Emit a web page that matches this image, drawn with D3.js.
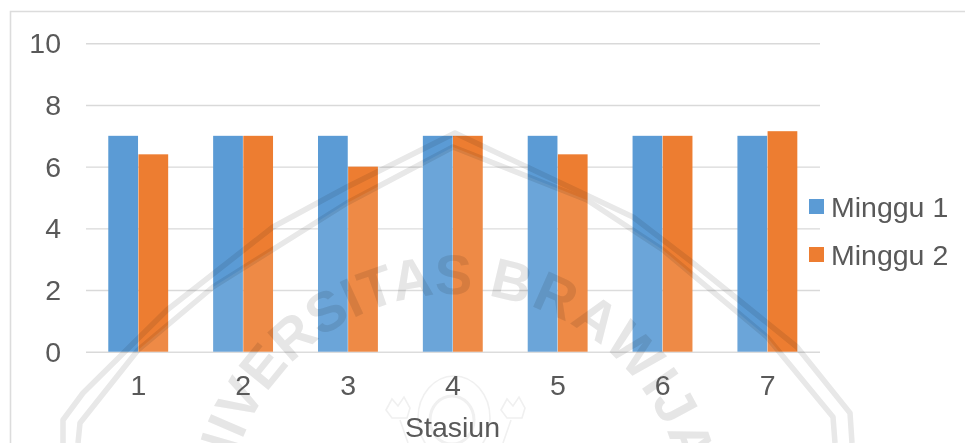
<!DOCTYPE html>
<html>
<head>
<meta charset="utf-8">
<script src="https://cdn.jsdelivr.net/npm/d3@7"></script>
<style>
  html, body { margin: 0; padding: 0; background: #fff; overflow: hidden; }
  text { font-family: "Liberation Sans", Arial, sans-serif; fill: #595959; }
</style>
</head>
<body>
<svg id="chart" width="965" height="443"></svg>
<script>
// Readings per monitoring station
const stations = ["1", "2", "3", "4", "5", "6", "7"];
const seriesNames = ["Minggu 1", "Minggu 2"];
const minggu1 = [7, 7, 7, 7, 7, 7, 7];
const minggu2 = [6.4, 7, 6, 7, 6.4, 7, 7.15];
const seriesValues = [minggu1, minggu2];
const yTicks = [0, 2, 4, 6, 8, 10];
const seriesColors = ["#5b9bd5", "#ed7d31"];
const axisTitle = "Stasiun";
const sealWords = ["UNIVERSITAS ", "BRAWIJAYA"];

const svg = d3.select("#chart");
const plot = { left: 86, right: 820, top: 43.3, bottom: 351.7 };
const labelSize = 28.5;

// Chart frame: runs off the right and bottom of the page
svg.append("path")
  .attr("d", "M10.5,443V11.5H965")
  .attr("fill", "none").attr("stroke", "#dcdcdc").attr("stroke-width", 1.6);

const x = d3.scaleBand().domain(stations).range([plot.left, plot.right])
  .paddingInner(0.425).paddingOuter(0.2125);
const xSeries = d3.scaleBand().domain(d3.range(seriesNames.length)).range([0, x.bandwidth()]);
const y = d3.scaleLinear().domain([0, 10]).range([plot.bottom, plot.top]);

// Horizontal gridlines and value labels
const yAxis = svg.append("g").attr("transform", `translate(${plot.left},0)`)
  .call(d3.axisLeft(y).tickValues(yTicks).tickSize(-(plot.right - plot.left)).tickPadding(25));
yAxis.select(".domain").remove();
yAxis.selectAll(".tick line").attr("stroke", "#d9d9d9").attr("stroke-width", 1.4);
yAxis.selectAll(".tick text").attr("font-size", labelSize).attr("dy", "0.33em");

// Grouped bars
seriesValues.forEach((values, s) => {
  svg.append("g").selectAll("rect").data(values).join("rect")
    .attr("x", (d, i) => x(stations[i]) + xSeries(s))
    .attr("y", d => y(d))
    .attr("width", xSeries.bandwidth() - 0.4)
    .attr("height", d => y(0) - y(d))
    .attr("fill", seriesColors[s]);
});

// University seal printed over the page
const seal = svg.append("g");
const outerEdge = [[63, 443], [63, 420], [83, 393], [167, 310], [273, 227], [347, 187], [455, 133],
                   [633, 217], [693, 263], [797, 347], [850, 413], [852, 443]];
const innerEdge = [[78, 443], [80, 423], [138, 350], [213, 287], [347, 203], [453, 147],
                   [587, 200], [663, 250], [767, 337], [833, 417], [835, 443]];
const edgeLine = d3.line();

seal.append("path").attr("d", edgeLine(innerEdge) + "Z")
  .attr("fill", "#fff").attr("fill-opacity", 0.1);

const inkLayer = seal.append("g").style("mix-blend-mode", "multiply");
[outerEdge, innerEdge].forEach(edge => {
  inkLayer.append("path").attr("d", edgeLine(edge))
    .attr("fill", "none").attr("stroke", "#e8e8e8").attr("stroke-width", 5.5)
    .attr("stroke-linejoin", "round");
});

const arcR = 230, arcCx = 456, arcCy = 524;
svg.append("defs").append("path").attr("id", "sealArc")
  .attr("d", `M${arcCx - arcR},${arcCy}A${arcR},${arcR} 0 0 1 ${arcCx + arcR},${arcCy}`);
const sealPath = inkLayer.append("text")
  .attr("font-size", 56).attr("font-weight", "bold")
  .attr("text-anchor", "middle")
  .style("fill", "#e6e6e6")
  .append("textPath").attr("href", "#sealArc").attr("startOffset", 373);
sealPath.append("tspan").text(sealWords[0]);
sealPath.append("tspan").attr("letter-spacing", 2.5).text(sealWords[1]);

// Emblem in the middle of the seal
const emblem = seal.append("g").attr("fill", "none").attr("stroke", "#f0f0f0").attr("stroke-width", 1.6);
emblem.append("ellipse").attr("cx", 454).attr("cy", 418).attr("rx", 36).attr("ry", 42);
emblem.append("ellipse").attr("cx", 452).attr("cy", 420).attr("rx", 22).attr("ry", 24).attr("stroke-width", 3);
[[398, 1], [513, -1]].forEach(([cx, dir]) => {
  emblem.append("path")
    .attr("d", `M${cx - 12},${410}l6,-11l6,7l6,-9l6,11l-3,10h-15z M${cx + dir * 2},${420}l${dir * 8},23`);
});

// Station labels along the baseline
const xAxis = svg.append("g").attr("transform", `translate(0,${plot.bottom})`)
  .call(d3.axisBottom(x).tickSize(0).tickPadding(23));
xAxis.select(".domain").remove();
xAxis.selectAll(".tick text").attr("font-size", labelSize).attr("dy", "0.71em");

svg.append("text").attr("x", 452.5).attr("y", 437)
  .attr("text-anchor", "middle").attr("font-size", labelSize).text(axisTitle);

// Legend
const legend = svg.append("g").selectAll("g").data(seriesNames).join("g")
  .attr("transform", (d, i) => `translate(809,${199 + i * 48})`);
legend.append("rect").attr("width", 15).attr("height", 15).attr("fill", (d, i) => seriesColors[i]);
legend.append("text").attr("x", 22).attr("y", 17.7).attr("font-size", labelSize).text(d => d);
</script>
</body>
</html>
